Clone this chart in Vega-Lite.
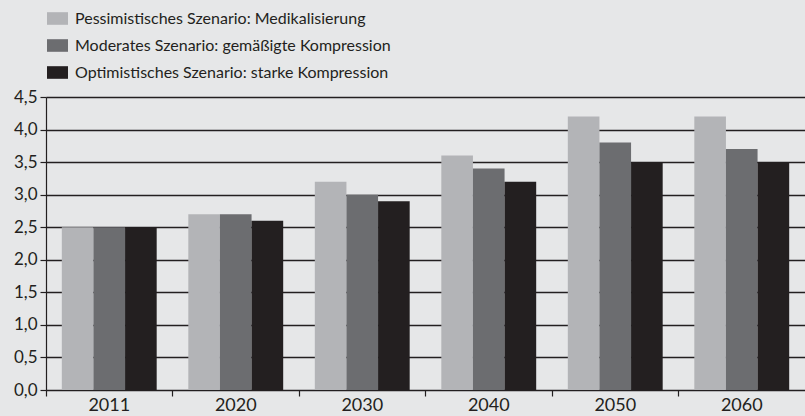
{
  "$schema": "https://vega.github.io/schema/vega-lite/v6.json",
  "width": 759,
  "height": 293,
  "autosize": {"type": "none"},
  "padding": {"left": 46, "top": 97, "right": 0, "bottom": 26},
  "background": "#e6e7e8",
  "config": {"view": {"stroke": null}, "font": "Lato"},
  "data": {
    "values": [
      {"Jahr": "2011", "Szenario": "Pessimistisches Szenario: Medikalisierung", "Wert": 2.5},
      {"Jahr": "2011", "Szenario": "Moderates Szenario: gemäßigte Kompression", "Wert": 2.5},
      {"Jahr": "2011", "Szenario": "Optimistisches Szenario: starke Kompression", "Wert": 2.5},
      {"Jahr": "2020", "Szenario": "Pessimistisches Szenario: Medikalisierung", "Wert": 2.7},
      {"Jahr": "2020", "Szenario": "Moderates Szenario: gemäßigte Kompression", "Wert": 2.7},
      {"Jahr": "2020", "Szenario": "Optimistisches Szenario: starke Kompression", "Wert": 2.6},
      {"Jahr": "2030", "Szenario": "Pessimistisches Szenario: Medikalisierung", "Wert": 3.2},
      {"Jahr": "2030", "Szenario": "Moderates Szenario: gemäßigte Kompression", "Wert": 3.0},
      {"Jahr": "2030", "Szenario": "Optimistisches Szenario: starke Kompression", "Wert": 2.9},
      {"Jahr": "2040", "Szenario": "Pessimistisches Szenario: Medikalisierung", "Wert": 3.6},
      {"Jahr": "2040", "Szenario": "Moderates Szenario: gemäßigte Kompression", "Wert": 3.4},
      {"Jahr": "2040", "Szenario": "Optimistisches Szenario: starke Kompression", "Wert": 3.2},
      {"Jahr": "2050", "Szenario": "Pessimistisches Szenario: Medikalisierung", "Wert": 4.2},
      {"Jahr": "2050", "Szenario": "Moderates Szenario: gemäßigte Kompression", "Wert": 3.8},
      {"Jahr": "2050", "Szenario": "Optimistisches Szenario: starke Kompression", "Wert": 3.5},
      {"Jahr": "2060", "Szenario": "Pessimistisches Szenario: Medikalisierung", "Wert": 4.2},
      {"Jahr": "2060", "Szenario": "Moderates Szenario: gemäßigte Kompression", "Wert": 3.7},
      {"Jahr": "2060", "Szenario": "Optimistisches Szenario: starke Kompression", "Wert": 3.5}
    ]
  },
  "mark": {"type": "bar"},
  "encoding": {
    "x": {
      "field": "Jahr",
      "type": "nominal",
      "scale": {"paddingInner": 0, "paddingOuter": 0},
      "axis": {
        "title": null,
        "labelAngle": 0,
        "bandPosition": 0,
        "domainColor": "#231f20",
        "domainWidth": 1.2,
        "tickColor": "#231f20",
        "tickWidth": 1.2,
        "tickSize": 6,
        "labelColor": "#231f20",
        "labelFontSize": 18,
        "labelPadding": 0,
        "grid": false
      }
    },
    "xOffset": {
      "field": "Szenario",
      "type": "nominal",
      "sort": ["Pessimistisches Szenario: Medikalisierung", "Moderates Szenario: gemäßigte Kompression", "Optimistisches Szenario: starke Kompression"],
      "scale": {"paddingInner": 0, "paddingOuter": 0.5}
    },
    "y": {
      "field": "Wert",
      "type": "quantitative",
      "scale": {"domain": [0, 4.5], "nice": false},
      "axis": {
        "title": null,
        "values": [0, 0.5, 1, 1.5, 2, 2.5, 3, 3.5, 4, 4.5],
        "labelExpr": "replace(format(datum.value, '.1f'), '.', ',')",
        "domainColor": "#231f20",
        "domainWidth": 1.2,
        "tickColor": "#231f20",
        "tickWidth": 1.2,
        "tickSize": 6,
        "labelColor": "#231f20",
        "labelFontSize": 17,
        "labelPadding": 3,
        "grid": true,
        "gridColor": "#231f20",
        "gridWidth": 1.3,
        "gridOpacity": 1
      }
    },
    "color": {
      "field": "Szenario",
      "type": "nominal",
      "sort": ["Pessimistisches Szenario: Medikalisierung", "Moderates Szenario: gemäßigte Kompression", "Optimistisches Szenario: starke Kompression"],
      "scale": {
        "domain": ["Pessimistisches Szenario: Medikalisierung", "Moderates Szenario: gemäßigte Kompression", "Optimistisches Szenario: starke Kompression"],
        "range": ["#b3b4b7", "#6c6d70", "#231f20"]
      },
      "legend": {
        "title": null,
        "orient": "none",
        "legendX": 1,
        "legendY": -89,
        "symbolType": "M-1,-0.6H1V0.6H-1Z",
        "symbolSize": 441,
        "symbolOpacity": 1,
        "symbolStrokeWidth": 0,
        "labelFontSize": 16,
        "labelColor": "#231f20",
        "labelLimit": 600,
        "rowPadding": 8,
        "symbolOffset": 0,
        "labelOffset": 7
      }
    }
  }
}
